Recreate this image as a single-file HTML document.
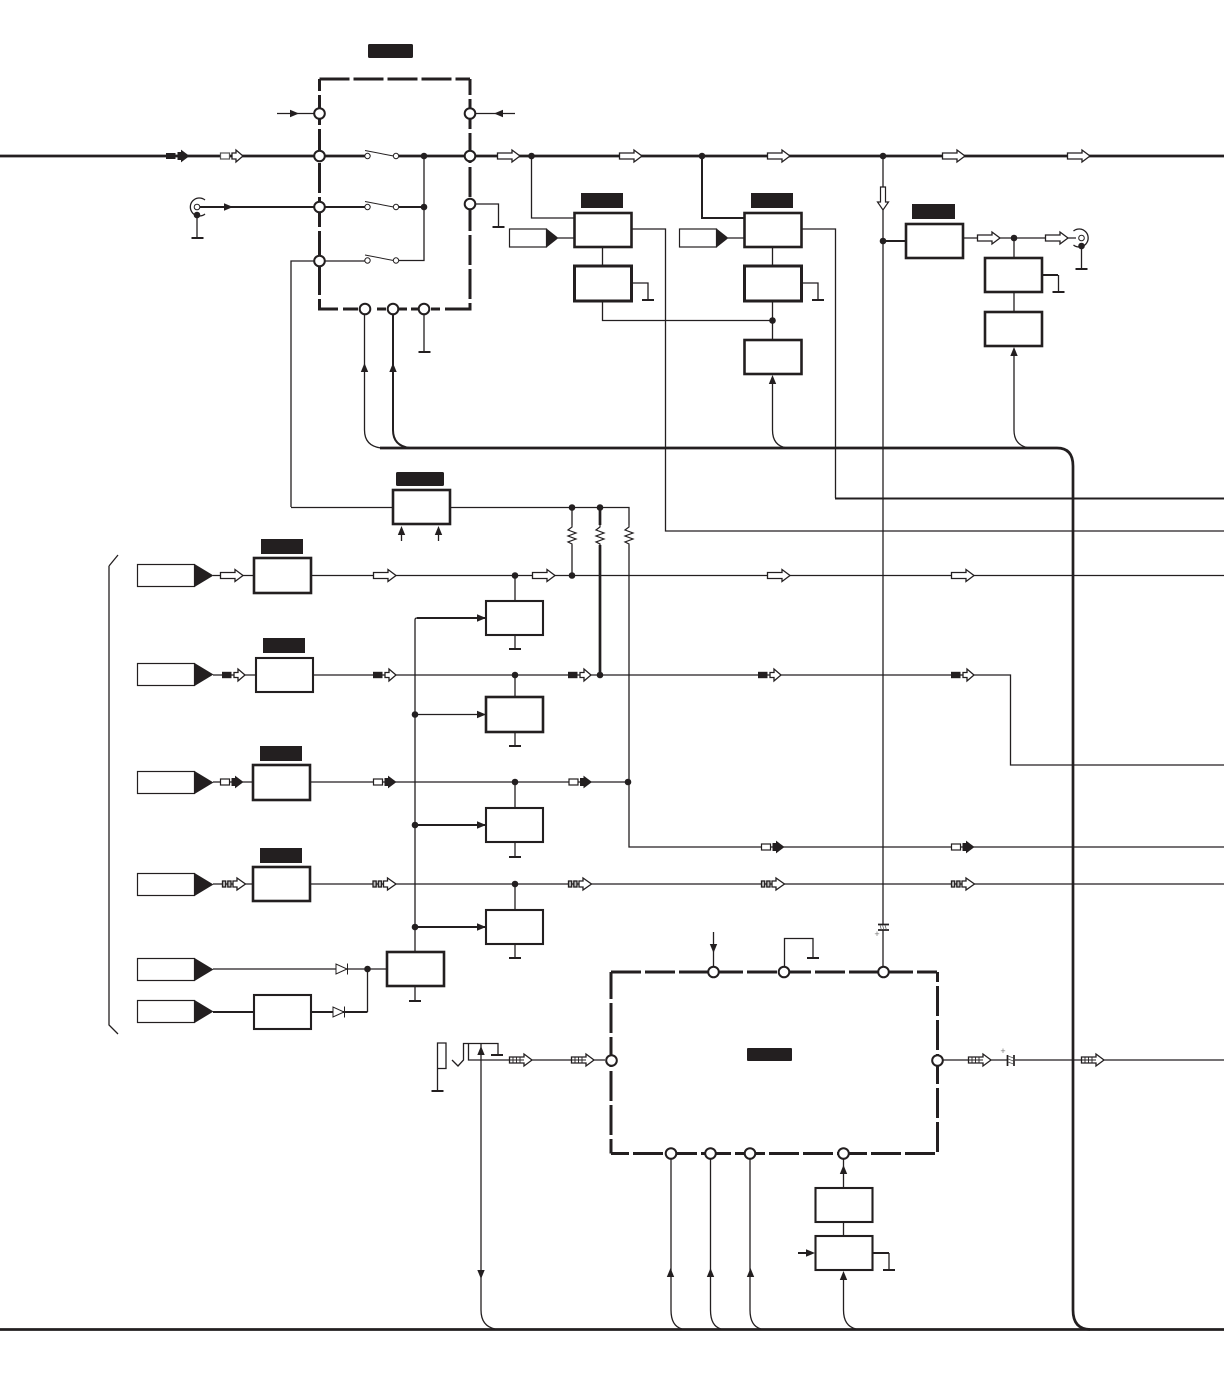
<!DOCTYPE html>
<html><head><meta charset="utf-8"><style>
html,body{margin:0;padding:0;background:#fff;width:1224px;height:1378px;overflow:hidden}
svg{display:block}
.t{fill:none;stroke:#231f20;stroke-width:1.3}
.m{fill:none;stroke:#231f20;stroke-width:2}
.k{fill:none;stroke:#231f20;stroke-width:2.7}
.b{fill:#fff;stroke:#231f20;stroke-width:2.6}
.bb{fill:#fff;stroke:#231f20;stroke-width:3}
.bm{fill:#fff;stroke:#231f20;stroke-width:2.1}
.i{fill:#fff;stroke:#231f20;stroke-width:1.2}
.tri,.l{fill:#231f20;stroke:none}
.ds{fill:none;stroke:#231f20;stroke-width:3;stroke-dasharray:30 4}
.so{fill:none;stroke:#231f20;stroke-width:3}
</style></head><body>
<svg width="1224" height="1378" viewBox="0 0 1224 1378" xmlns="http://www.w3.org/2000/svg">
<defs>
<circle id="d" r="3.3" fill="#231f20"/>
<circle id="c" r="5.3" fill="#fff" stroke="#231f20" stroke-width="2"/>
<circle id="s" r="2.7" fill="#fff" stroke="#231f20" stroke-width="1"/>
<path id="g" d="M-6,0H6" fill="none" stroke="#231f20" stroke-width="2"/>
<path id="au" d="M0,0L-3.7,9H3.7Z" fill="#231f20"/>
<path id="ad" d="M0,0L-3.7,-9H3.7Z" fill="#231f20"/>
<path id="ar" d="M0,0L-9,-3.7V3.7Z" fill="#231f20"/>
<path id="al" d="M0,0L9,-3.7V3.7Z" fill="#231f20"/>
<path id="oa" d="M0.5,-3H15V-6L23,0L15,6V3H0.5Z" fill="#fff" stroke="#231f20" stroke-width="1.3"/>
<g id="ho"><rect x="0.5" y="-3" width="9" height="6" fill="#fff" stroke="#555" stroke-width="1.2"/><path d="M12,-3H16V-6L23,0L16,6V3H12Z" fill="#fff" stroke="#231f20" stroke-width="1.3"/></g>
<g id="sa"><rect x="0" y="-3.2" width="9.5" height="6.4" fill="#231f20"/><path d="M12,-2.5H16V-6L23,0L16,6V2.5H12Z" fill="#fff" stroke="#231f20" stroke-width="1.3"/></g>
<g id="ha"><rect x="0.5" y="-3" width="9" height="6" fill="#fff" stroke="#231f20" stroke-width="1.2"/><path d="M11.5,-4H15V-6.4L23.5,0L15,6.4V4H11.5Z" fill="#231f20"/></g>
<g id="bk"><rect x="0" y="-3" width="9.5" height="6" fill="#231f20"/><path d="M11.5,-4H15V-6.4L23.5,0L15,6.4V4H11.5Z" fill="#231f20"/></g>
<g id="da"><rect x="0.5" y="-3" width="3.2" height="6" fill="#bbb" stroke="#231f20" stroke-width="1.3"/><rect x="5.8" y="-3" width="3.2" height="6" fill="#bbb" stroke="#231f20" stroke-width="1.3"/><path d="M11,-3H15V-6L23.5,0L15,6V3H11Z" fill="#fff" stroke="#231f20" stroke-width="1.3"/></g>
<g id="ta"><path d="M0.5,-3H15V-6L23,0L15,6V3H0.5Z" fill="#fff" stroke="#231f20" stroke-width="1.3"/><path d="M0.5,0H15M4,-3V3M7.5,-3V3M11,-3V3" fill="none" stroke="#231f20" stroke-width="0.9"/></g>
<g id="in"><rect x="0" y="0" width="57" height="22" class="i"/><path d="M57,-0.5L76,11L57,22.5Z" class="tri"/></g>
<g id="in2"><rect x="0" y="0" width="37" height="18" class="i"/><path d="M37,-0.5L49,9L37,18.5Z" class="tri"/></g>
<path id="r" d="M0,0V2L-4,5L4,8L-4,11L4,14L-4,17L0,19V20" fill="none" stroke="#231f20" stroke-width="1.2"/>
<g id="sw"><path d="M-2.5,-5.5L26,0" fill="none" stroke="#231f20" stroke-width="1"/><use href="#s" x="0" y="0"/><use href="#s" x="28.5" y="0"/></g>
<path id="dio" d="M-6,-5V5L5,0ZM5.5,-5.5V5.5" fill="#fff" stroke="#231f20" stroke-width="1"/>
</defs>
<rect width="1224" height="1378" fill="#fff"/>

<!-- main lines -->
<path class="k" d="M0,156H367M396,156H1224"/>
<path class="k" d="M0,1329.5H1224"/>
<path class="k" d="M380,448H1057Q1073,448 1073,466V1310Q1073,1329 1090,1329.5"/>

<!-- top dashed block -->
<path class="ds" d="M319.5,79H470"/>
<path class="so" d="M318,309H338M343,309H358M377,309H386M398,309H407M411,309H418M431,309H440M445,309H471.5"/>
<path class="ds" stroke-dashoffset="18" d="M319.5,79V309"/>
<path class="ds" stroke-dashoffset="14" d="M470,79V309"/>

<!-- top block connections -->
<path class="m" d="M197,207H367M396,207H424"/>
<path class="t" d="M277,113.5H319M476,113.5H515"/>
<path class="t" d="M424,156V260.5H396"/>
<path class="t" d="M291,507V261H367"/>
<path class="t" d="M476,204H498.5V227"/>
<use href="#g" x="498.5" y="227"/>
<use href="#ar" x="299" y="113.5"/><use href="#al" x="494" y="113.5"/>
<use href="#ar" x="233" y="207"/>
<use href="#bk" x="166" y="156"/>
<use href="#ho" x="220" y="156"/>
<use href="#sw" x="367.5" y="156"/><use href="#sw" x="367.5" y="207"/><use href="#sw" x="367.5" y="260.5"/>
<use href="#d" x="424" y="156"/><use href="#d" x="424" y="207"/>

<!-- BNC left -->
<path class="t" d="M197,215V238"/>
<path class="t" d="M205,200A9,9 0 1 0 205,214"/>
<circle cx="197" cy="207" r="2.8" fill="#fff" stroke="#231f20" stroke-width="1"/>
<use href="#d" x="197" y="215"/>
<use href="#g" x="197.5" y="238"/>

<use href="#c" x="319.5" y="113.5"/><use href="#c" x="319.5" y="156"/><use href="#c" x="319.5" y="207"/><use href="#c" x="319.5" y="261"/>
<use href="#c" x="470" y="113.5"/><use href="#c" x="470" y="156"/><use href="#c" x="470" y="204"/>

<!-- under block -->
<path class="t" d="M364.5,315V430Q364.5,446 381,448"/>
<path class="m" d="M393,315V430Q393,446 410,448"/>
<path class="t" d="M424,315V352"/>
<use href="#g" x="424.5" y="352"/>
<use href="#au" x="364.5" y="363"/><use href="#au" x="393" y="363"/>
<use href="#c" x="365" y="309"/><use href="#c" x="393" y="309"/><use href="#c" x="424" y="309"/>
<rect x="368" y="44" width="45" height="14" rx="1.5" class="l"/>

<!-- sections 2 & 3 -->
<path class="t" d="M531.5,156V218H574"/>
<path class="m" d="M702,156V218H744"/>
<path class="t" d="M558,238H574M728,238H744"/>
<path class="t" d="M602.5,247V266M772.5,247V266M772.5,301V340"/>
<path class="t" d="M602.5,301V320.5H772.5"/>
<path class="t" d="M631,229H665.5V531H1224"/>
<path class="t" d="M801,229H835.5V498"/>
<path class="m" d="M835,498.5H1224"/>
<path class="t" d="M631,283H648V300M801,283H818V300"/>
<use href="#g" x="648" y="300"/><use href="#g" x="818" y="300"/>
<path class="t" d="M772.5,380V430Q772.5,446 787,448"/>
<use href="#oa" x="497" y="156"/><use href="#oa" x="619" y="156"/><use href="#oa" x="767" y="156"/><use href="#oa" x="942" y="156"/><use href="#oa" x="1067" y="156"/>
<use href="#d" x="531.5" y="156"/><use href="#d" x="702" y="156"/><use href="#d" x="772.5" y="320.5"/>
<rect x="581" y="193" width="42" height="15" class="l"/><rect x="751" y="193" width="42" height="15" class="l"/>
<use href="#in2" x="509.5" y="229"/><use href="#in2" x="679.5" y="229"/>
<rect x="574.5" y="213" width="57" height="34" class="b"/>
<rect x="574.5" y="266" width="57" height="35" class="bb"/>
<rect x="744.5" y="213" width="57" height="34" class="b"/>
<rect x="744.5" y="266" width="57" height="35" class="bb"/>
<rect x="744.5" y="340" width="57" height="34" class="b"/>
<use href="#au" x="772.5" y="375"/>

<!-- centre vertical -->
<path class="t" d="M883,156V925M883,930V972"/>
<path class="i" d="M880.5,187H885.5V202H888.5L883,210L877.5,202H880.5Z"/>
<use href="#d" x="883" y="156"/><use href="#d" x="883" y="241"/>
<path class="m" d="M883,241H906"/>
<rect x="912" y="204" width="43" height="15" class="l"/>
<rect x="906" y="224" width="57" height="34" class="b"/>
<path class="t" d="M963,238H1076"/>
<use href="#oa" x="977" y="238"/><use href="#oa" x="1045" y="238"/>
<use href="#d" x="1014" y="238"/>
<path class="t" d="M1014,238V258M1014,292V312"/>
<path class="m" d="M1042,275H1058"/><path class="t" d="M1058.5,275V292"/>
<use href="#g" x="1058.5" y="292"/>
<rect x="985" y="258" width="57" height="34" class="b"/>
<rect x="985" y="312" width="57" height="34" class="b"/>
<path class="t" d="M1014,352V430Q1014,446 1030,448"/>
<use href="#au" x="1014" y="347"/>
<path class="t" d="M1073.5,231A9,9 0 1 1 1073.5,245"/>
<circle cx="1081.5" cy="238" r="2.8" fill="#fff" stroke="#231f20" stroke-width="1"/>
<use href="#d" x="1081.5" y="246"/>
<path class="t" d="M1081.5,246V269"/><use href="#g" x="1081.5" y="269"/>

<!-- mid unit and resistors -->
<rect x="396" y="472" width="48" height="14" rx="1.5" class="l"/>
<path class="t" d="M291,507.5H393M450,507.5H629V525"/>
<rect x="393" y="490" width="57" height="34" class="b"/>
<use href="#au" x="401.5" y="526"/><use href="#au" x="438.5" y="526"/>
<path class="t" d="M401.5,535V541M438.5,535V541"/>
<path class="t" d="M572,507V525M572,545V575"/>
<path class="k" d="M600,545V675M600,507V525"/>
<path class="t" d="M629,545V847H1224"/>
<use href="#r" x="572" y="525"/><use href="#r" x="600" y="525"/><use href="#r" x="629" y="525"/>
<use href="#d" x="572" y="507.5"/><use href="#d" x="600" y="507.5"/>

<!-- signal rows -->
<path class="t" d="M213,575.5H254M311,575.5H1224"/>
<path class="t" d="M213,675H256M313,675H1010.5V765H1224"/>
<path class="t" d="M213,782H253M310,782H628"/>
<path class="t" d="M213,884H253M310,884H1224"/>
<path class="t" d="M213,969H387"/>
<path class="m" d="M213,1012H254M311,1012H367.5"/>
<path class="t" d="M367.5,969V1012"/>
<path class="t" d="M109,566V1025L118,1034M109,566L118,555"/>

<path class="t" d="M515,575V601M515,675V697M515,782V808M515,884V910"/>
<path class="t" d="M415,952V620Q415,618 417,618"/>
<path class="m" d="M417,618H486"/><path class="t" d="M415,714.5H486"/><path class="m" d="M415,825H486M415,927H486"/>
<use href="#d" x="415" y="714.5"/><use href="#d" x="415" y="825"/><use href="#d" x="415" y="927"/>
<path class="t" d="M515,635V649M515,732V746M515,842V857M515,944V958M415,986V1001"/>
<use href="#g" x="515" y="649"/><use href="#g" x="515" y="746"/><use href="#g" x="515" y="857"/><use href="#g" x="515" y="958"/><use href="#g" x="415" y="1001"/>

<use href="#in" x="137.5" y="564.5"/><use href="#in" x="137.5" y="663.5"/><use href="#in" x="137.5" y="771.5"/><use href="#in" x="137.5" y="873.5"/><use href="#in" x="137.5" y="958.5"/><use href="#in" x="137.5" y="1000.5"/>

<rect x="261" y="539" width="42" height="15" class="l"/><rect x="263" y="638" width="42" height="15" class="l"/><rect x="260" y="746" width="42" height="15" class="l"/><rect x="260" y="848" width="42" height="15" class="l"/>
<rect x="254" y="558" width="57" height="35" class="b"/>
<rect x="256" y="658" width="57" height="34" class="bm"/>
<rect x="253" y="765" width="57" height="35" class="b"/>
<rect x="253" y="867" width="57" height="34" class="b"/>
<rect x="254" y="995" width="57" height="34" class="bm"/>
<rect x="387" y="952" width="57" height="34" class="b"/>
<rect x="486" y="601" width="57" height="34" class="bm"/>
<rect x="486" y="697" width="57" height="35" class="b"/>
<rect x="486" y="808" width="57" height="34" class="bm"/>
<rect x="486" y="910" width="57" height="34" class="bm"/>
<use href="#ar" x="486" y="618"/><use href="#ar" x="486" y="714.5"/><use href="#ar" x="486" y="825"/><use href="#ar" x="486" y="927"/>

<use href="#oa" x="220" y="575.5"/><use href="#oa" x="373" y="575.5"/><use href="#oa" x="532" y="575.5"/><use href="#oa" x="767" y="575.5"/><use href="#oa" x="951" y="575.5"/>
<use href="#sa" x="222" y="675"/><use href="#sa" x="373" y="675"/><use href="#sa" x="568" y="675"/><use href="#sa" x="758" y="675"/><use href="#sa" x="951" y="675"/>
<use href="#ha" x="220" y="782"/><use href="#ha" x="373" y="782"/><use href="#ha" x="568.5" y="782"/><use href="#ha" x="761" y="847"/><use href="#ha" x="951" y="847"/>
<use href="#da" x="222" y="884"/><use href="#da" x="372.5" y="884"/><use href="#da" x="568" y="884"/><use href="#da" x="761" y="884"/><use href="#da" x="951" y="884"/>
<use href="#d" x="515" y="575.5"/><use href="#d" x="572" y="575.5"/><use href="#d" x="515" y="675"/><use href="#d" x="600" y="675"/><use href="#d" x="515" y="782"/><use href="#d" x="628" y="782"/><use href="#d" x="515" y="884"/><use href="#d" x="367.5" y="969"/>
<use href="#dio" x="342" y="969"/><use href="#dio" x="339" y="1012"/>

<!-- big dashed block -->
<path class="ds" d="M611,972H937"/>
<path class="ds" stroke-dashoffset="12" d="M611,1153.5H937"/>
<path class="ds" stroke-dashoffset="3" d="M611,972V1153.5"/>
<path class="ds" stroke-dashoffset="20" d="M937.5,972V1153.5"/>
<rect x="747" y="1048" width="45" height="13" rx="1" class="l"/>
<path class="t" d="M713.5,932V966"/><use href="#ad" x="713.5" y="953"/>
<path class="t" d="M784.5,966V938.5H813V958"/><use href="#g" x="813" y="958"/>
<path d="M878,924.5H889M878,930H889" fill="none" stroke="#231f20" stroke-width="1.7"/>
<path d="M880,925L881.5,930M882.5,925L884,930M885,925L886.5,930" fill="none" stroke="#555" stroke-width="0.7"/>
<text x="877" y="937" font-family="Liberation Sans, sans-serif" font-size="9" fill="#777" text-anchor="middle">+</text>
<text x="1003" y="1054" font-family="Liberation Sans, sans-serif" font-size="9" fill="#777" text-anchor="middle">+</text>

<!-- input jack -->
<path class="t" d="M437.5,1043H446V1068.5H437.5ZM437.5,1068V1091"/>
<use href="#g" x="437.5" y="1091"/>
<path class="t" d="M452,1060L458,1066L463.5,1060V1043.5H498V1055M468.5,1043.5V1060H605"/>
<use href="#g" x="497" y="1055"/>
<path class="t" d="M481,1044V1310Q481,1326 495,1329"/>
<use href="#au" x="481" y="1046"/><use href="#ad" x="481" y="1279"/>
<use href="#ta" x="509" y="1060"/><use href="#ta" x="571" y="1060"/>

<path class="t" d="M943,1060H1224"/>
<use href="#ta" x="968" y="1060"/><use href="#ta" x="1081" y="1060"/>
<rect x="1007" y="1054" width="8" height="12" fill="#fff"/>
<path d="M1007.5,1055V1066M1014,1055V1066" fill="none" stroke="#231f20" stroke-width="1.7"/>
<path d="M1008,1056L1013.5,1058M1008,1059L1013.5,1061M1008,1062L1013.5,1064" fill="none" stroke="#555" stroke-width="0.7"/>

<path class="t" d="M671,1159V1310Q671,1326 682,1329M710.5,1159V1310Q710.5,1326 721,1329M750,1159V1310Q750,1326 761,1329"/>
<use href="#au" x="670.5" y="1268"/><use href="#au" x="710.5" y="1268"/><use href="#au" x="750.5" y="1268"/>
<path class="t" d="M843.5,1159V1188M843.5,1222V1236M843.5,1280V1310Q843.5,1326 856,1329"/>
<use href="#au" x="843.5" y="1165"/>
<rect x="815.5" y="1188" width="57" height="34" class="bm"/>
<rect x="815.5" y="1236" width="57" height="34" class="bm"/>
<use href="#au" x="843.5" y="1271"/>
<path class="m" d="M798,1253H806"/><use href="#ar" x="815" y="1253"/>
<path class="m" d="M872,1253H889"/><path class="t" d="M889,1253V1270"/><use href="#g" x="889" y="1270"/>

<use href="#c" x="713.5" y="972"/><use href="#c" x="784" y="972"/><use href="#c" x="883.5" y="972"/>
<use href="#c" x="611.5" y="1060.5"/><use href="#c" x="937.5" y="1060.5"/>
<use href="#c" x="671" y="1153.5"/><use href="#c" x="710.5" y="1153.5"/><use href="#c" x="750" y="1153.5"/><use href="#c" x="843.5" y="1153.5"/>
</svg>
</body></html>
